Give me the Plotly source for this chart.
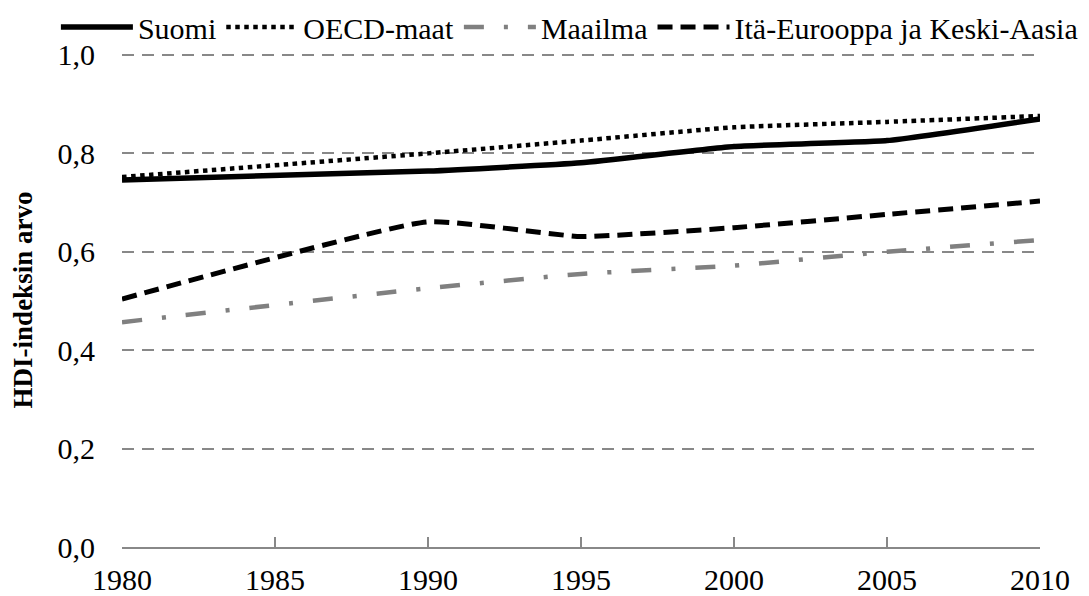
import plotly.graph_objects as go

years = [1980, 1990, 1995, 2000, 2005, 2010]
suomi = [0.746, 0.764, 0.781, 0.814, 0.826, 0.870]
oecd = [0.752, 0.800, 0.826, 0.853, 0.864, 0.876]
maailma = [0.457, 0.526, 0.555, 0.572, 0.600, 0.624]
ita = [0.504, 0.661, 0.631, 0.649, 0.676, 0.703]

x_ticks = [1980, 1985, 1990, 1995, 2000, 2005, 2010]
y_ticks = [0.0, 0.2, 0.4, 0.6, 0.8, 1.0]
y_labels = ["0,0", "0,2", "0,4", "0,6", "0,8", "1,0"]

FONT = "Liberation Serif"

fig = go.Figure()
fig.add_trace(go.Scatter(x=years, y=maailma, name="Maailma", mode="lines", legendrank=3,
                         line=dict(color="#808080", width=4.5, dash="20px,20px,4px,20px", shape="spline", smoothing=0.4)))
fig.add_trace(go.Scatter(x=years, y=ita, name="Itä-Eurooppa ja Keski-Aasia", mode="lines", legendrank=4,
                         line=dict(color="black", width=5, dash="15px,8px", shape="spline", smoothing=0.4)))
fig.add_trace(go.Scatter(x=years, y=oecd, name="OECD-maat", mode="lines", legendrank=2,
                         line=dict(color="black", width=4.5, dash="dot", shape="spline", smoothing=0.4)))
fig.add_trace(go.Scatter(x=years, y=suomi, name="Suomi", mode="lines", legendrank=1,
                         line=dict(color="black", width=5.5, shape="spline", smoothing=0.4)))

fig.update_layout(
    width=1089, height=596,
    margin=dict(l=114, r=57, t=45, b=57, autoexpand=False),
    plot_bgcolor="white", paper_bgcolor="white",
    font=dict(family=FONT, size=30, color="black"),
    showlegend=True,
    legend=dict(orientation="h", x=-0.072, xanchor="left", y=1.0, yanchor="bottom",
                traceorder="normal", itemwidth=72, font=dict(family=FONT, size=30),
                bgcolor="rgba(0,0,0,0)"),
    xaxis=dict(range=[1980, 2010], tickvals=x_ticks, showgrid=False,
               showline=True, linecolor="#888888", linewidth=1.5,
               ticks="inside", ticklen=10, tickcolor="#888888", tickwidth=1.5,
               ticklabelstandoff=5, zeroline=False, automargin=False,
               tickfont=dict(family=FONT, size=30)),
    yaxis=dict(range=[0, 1.004], tickvals=y_ticks, ticktext=y_labels,
               showgrid=True, gridcolor="#888888", gridwidth=1.5, griddash="12px,8px",
               showline=False, zeroline=False, ticks="", ticklabelstandoff=26, automargin=False,
               tickfont=dict(family=FONT, size=30),
               title=dict(text="<b>HDI-indeksin arvo</b>", font=dict(family=FONT, size=27), standoff=26)),
)

fig.write_html("out.html")
